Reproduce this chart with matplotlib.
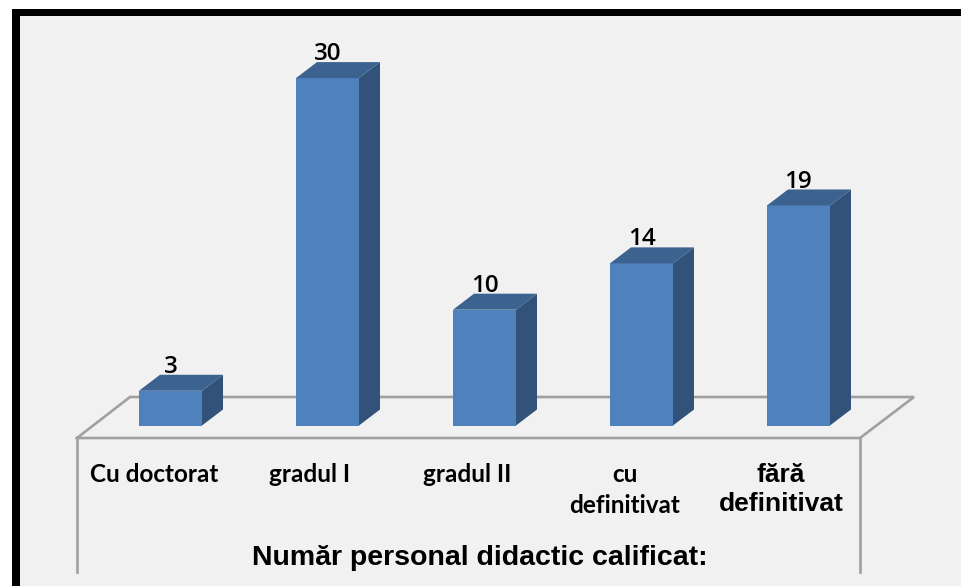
import matplotlib
matplotlib.use("Agg")
import matplotlib.pyplot as plt
from matplotlib.patches import Polygon, Rectangle

categories = ["Cu doctorat", "gradul I", "gradul II", "cu\ndefinitivat", "fără\ndefinitivat"]
values = [3, 30, 10, 14, 19]
title = "Număr personal didactic calificat:"

W, H = 961, 586
x0_px, x_step = 170.5, 157.0   # pixel centre of first bar, pixels per category
y0_px, y_step = 425.5, 11.58   # pixel of value 0, pixels per unit

bar_w = 63 / x_step
dx = 21 / x_step
dy = 16 / y_step

def px(x, y):
    # image pixels to data coords, for the frame and the floor
    return (x - x0_px) / x_step, (y0_px - y) / y_step

fig = plt.figure(figsize=(W / 100, H / 100), dpi=100, facecolor="white")
ax = fig.add_axes([0, 0, 1, 1])
ax.set_xlim(px(0, 0)[0], px(W, 0)[0])
ax.set_ylim(px(0, H)[1], px(0, 0)[1])
ax.axis("off")

# black frame and panel
left, bottom = px(12, H + 20)
right, top = px(W + 20, 9)
ax.add_patch(Rectangle((left, bottom), right - left, top - bottom, fc="black", ec="none", zorder=0))
left, bottom = px(20, H + 20)
right, top = px(W + 20, 16)
ax.add_patch(Rectangle((left, bottom), right - left, top - bottom, fc="#f1f1f1", ec="none", zorder=1))

# floor and table lines
grey = "#a0a0a0"
floor = [px(77, 438), px(130, 397), px(914, 397), px(860, 438), px(77, 438)]
ax.plot(*zip(*floor), color=grey, lw=1.9, zorder=2, solid_joinstyle="miter")
for xp in [77, 860]:
    ax.plot(*zip(px(xp, 438), px(xp, 572)), color=grey, lw=1.9, zorder=2)

# bars, front face then the faked 3d sides
xs = list(range(len(values)))
ax.bar(xs, values, width=bar_w, color="#4f81bd", edgecolor="none", zorder=3)
for x, v in zip(xs, values):
    l, r = x - bar_w / 2, x + bar_w / 2
    ax.add_patch(Polygon([(r, 0), (r + dx, dy), (r + dx, v + dy), (r, v)], fc="#32527a", ec="none", zorder=3))
    ax.add_patch(Polygon([(l, v), (l + dx, v + dy), (r + dx, v + dy), (r, v)], fc="#3c6290", ec="none", zorder=3))
    ax.text(x, v + dy - 0.35, str(v), ha="center", va="bottom", fontsize=17.5,
            family="Open Sans", weight="semibold", color="black", zorder=4)

# category labels
label_x = [154.5, 310, 467, 625, 781]
for i, (name, xp) in enumerate(zip(categories, label_x)):
    lx, ly = px(xp, 463)
    if i == 4:
        ax.text(lx, ly, name, ha="center", va="top", fontsize=19, family="Liberation Sans",
                weight="bold", linespacing=1.25, zorder=4)
    else:
        ax.text(lx, ly, name, ha="center", va="top", fontsize=17.5, family="Lato",
                weight="bold", linespacing=1.42, zorder=4)

tx, ty = px(480, 558)
ax.text(tx, ty, title, ha="center", va="center", fontsize=20.5, family="Liberation Sans",
        weight="bold", zorder=4)

fig.savefig("out.png", dpi=100)
